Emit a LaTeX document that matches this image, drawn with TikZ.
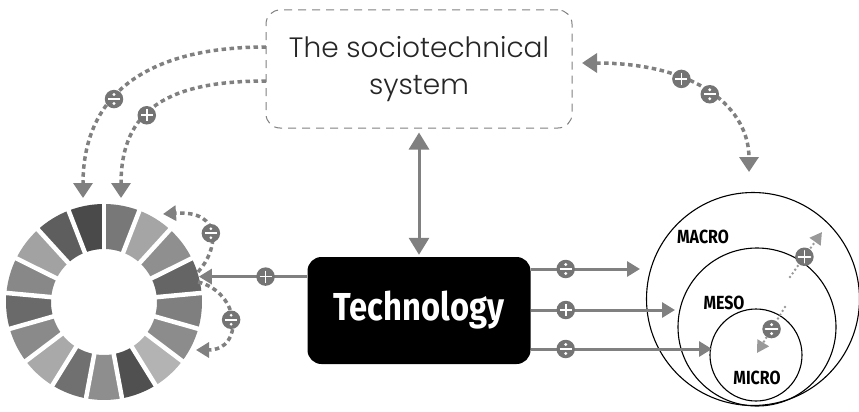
\documentclass[tikz,border=0pt]{standalone}
\usepackage{fontspec}
\setmainfont{Fira Sans}
\newfontfamily\sociofont{Poppins Light}
\newfontfamily\techfont{Fira Sans}[FakeStretch=0.84]
\usetikzlibrary{arrows.meta,calc}
\definecolor{linegray}{HTML}{808080}
\definecolor{markgray}{HTML}{747474}
\definecolor{dotgray}{HTML}{999999}

\begin{document}
\begin{tikzpicture}[x=1pt,y=-1pt,
  solidarrow/.style={draw=linegray,line width=3pt,-{Triangle[width=15pt,length=13pt]}},
  dasharrow/.style={draw=linegray,line width=3.5pt,dash pattern=on 4.5pt off 3.5pt,-{Triangle[width=19pt,length=15pt]}},
  dotarrow/.style={draw=dotgray,line width=2.8pt,line cap=round,dash pattern=on 0pt off 4.5pt,-{Triangle[width=13pt,length=12pt]}},
  signplus/.style={circle,fill=markgray,minimum size=18.5pt,inner sep=0pt,solid,
    path picture={\draw[white,line width=1.7pt,solid,-]
      ($(path picture bounding box.center)+(-6,0)$) -- ++(12,0)
      ($(path picture bounding box.center)+(0,-6)$) -- ++(0,12);}},
  signdiv/.style={circle,fill=markgray,minimum size=18.5pt,inner sep=0pt,solid,
    path picture={\draw[white,line width=1.7pt,solid,-]
      ($(path picture bounding box.center)+(-6,0)$) -- ++(12,0);
      \fill[white] ($(path picture bounding box.center)+(0,-4.5)$) circle[radius=1.6]
      ($(path picture bounding box.center)+(0,4.5)$) circle[radius=1.6];}},
  scaletag/.style={font=\techfont\bfseries\fontsize{19}{19}\selectfont,inner sep=0pt}]
  \useasboundingbox (0,0) rectangle (859,412);

  \node[draw=linegray,line width=1pt,dash pattern=on 8pt off 6pt,rounded corners=14pt,
    minimum width=306pt,minimum height=118pt,align=center,text=black!85,
    font=\sociofont\fontsize{28}{37}\selectfont] (socio) at (419,69) {The sociotechnical\\system};
  \node[fill=black,rounded corners=14pt,minimum width=223pt,minimum height=107pt,text=white,
    font=\techfont\bfseries\fontsize{39}{40}\selectfont] (tech) at (419,310.5) {Technology};

  \node[circle,draw,line width=1.1pt,minimum size=213pt,inner sep=0pt] (macro) at (753,299) {};
  \node[circle,draw,line width=1.1pt,minimum size=158pt,inner sep=0pt] (meso) at (757,327) {};
  \node[circle,draw,line width=1.1pt,minimum size=92pt,inner sep=0pt] (micro) at (756,355) {};
  \node[scaletag] (macrotag) at (703,237) {MACRO};
  \node[scaletag] (mesotag) at (724,303) {MESO};
  \node[scaletag] (microtag) at (757,378) {MICRO};

  \node[circle,minimum size=196pt,inner sep=0pt] (ring) at (104,302) {};
  \foreach \g [count=\i, evaluate=\i as \a using -90+(\i-1)*360/17, evaluate=\i as \b using -90+\i*360/17]
    in {120,165,143,101,127,140,179,80,142,112,169,138,106,136,162,94,74}
    \fill[fill={rgb,255:red,\g;green,\g;blue,\g},shift={(ring.center)}]
      (\a:98) arc[start angle=\a,end angle=\b,radius=98] -- (\b:53) arc[start angle=\b,end angle=\a,radius=53] -- cycle;
  \foreach \k in {0,...,16}
    \draw[white,line width=4.5pt,shift={(ring.center)}] (0,0) -- ({-90+\k*360/17}:101);

  \draw[solidarrow,{Triangle[width=20pt,length=17pt]}-{Triangle[width=20pt,length=17pt]},
    shorten <=4pt,shorten >=2pt] (socio.south) -- (tech.north);
  \draw[solidarrow] (ring.15 -| tech.west) -- node[signplus,pos=0.385]{} (ring.15);

  \coordinate (macroin) at (640,269);
  \coordinate (mesoin) at (675,310);
  \coordinate (microin) at (712,349);
  \draw[solidarrow] (macroin -| tech.east) -- node[signdiv,pos=0.32]{} (macroin);
  \draw[solidarrow] (mesoin -| tech.east) -- node[signplus,pos=0.243]{} (mesoin);
  \draw[solidarrow] (microin -| tech.east) -- node[signdiv,pos=0.193]{} (microin);

  \coordinate (socioA) at (266,47);
  \coordinate (socioB) at (266,81);
  \coordinate (ringtopA) at (83,198);
  \coordinate (ringtopB) at (121,198);
  \draw[dasharrow] (socioA) .. controls (150,47) and (83,92) .. node[signdiv,pos=0.6]{} (ringtopA);
  \draw[dasharrow] (socioB) .. controls (170,81) and (121,108) .. node[signplus,pos=0.58]{} (ringtopB);

  \coordinate (socioR) at (582,63);
  \coordinate (macrotop) at (749,172);
  \draw[dasharrow,{Triangle[width=19pt,length=15pt]}-{Triangle[width=19pt,length=15pt]}]
    (socioR) .. controls (700,63) and (749,110) .. node[signplus,pos=0.35]{} node[signdiv,pos=0.5]{} (macrotop);

  \coordinate (loopupA) at (198,272);
  \coordinate (loopupB) at (163,214);
  \coordinate (loopdnA) at (198,282);
  \coordinate (loopdnB) at (196,350);
  \draw[dasharrow,-{Triangle[width=15pt,length=13pt]}] (loopupA) .. controls (218,250) and (224,210) .. node[signdiv]{} (loopupB);
  \draw[dasharrow,-{Triangle[width=15pt,length=13pt]}] (loopdnA) .. controls (240,292) and (245,350) .. node[signdiv]{} (loopdnB);

  \coordinate (mesoout) at (790,277);
  \coordinate (macroout) at (822,232);
  \coordinate (mesoedge) at (785,307);
  \coordinate (microcore) at (757,353);
  \draw[dotarrow] (mesoout) -- node[signplus,pos=0.45]{} (macroout);
  \draw[dotarrow] (mesoedge) -- node[signdiv,pos=0.48]{} (microcore);
\end{tikzpicture}
\end{document}
